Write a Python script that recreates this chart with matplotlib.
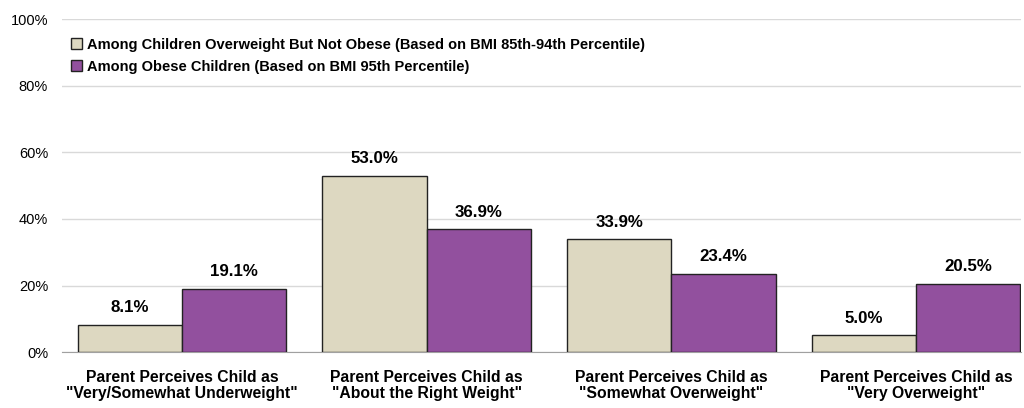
import matplotlib.pyplot as plt
import numpy as np
from matplotlib.ticker import PercentFormatter

plt.rcParams['font.family'] = ['Liberation Sans', 'DejaVu Sans']

categories = ['Parent Perceives Child as\n"Very/Somewhat Underweight"',
              'Parent Perceives Child as\n"About the Right Weight"',
              'Parent Perceives Child as\n"Somewhat Overweight"',
              'Parent Perceives Child as\n"Very Overweight"']
overweight = [8.1, 53.0, 33.9, 5.0]
obese = [19.1, 36.9, 23.4, 20.5]
series_names = ['Among Children Overweight But Not Obese (Based on BMI 85th-94th Percentile)',
                'Among Obese Children (Based on BMI 95th Percentile)']

fig = plt.figure(figsize=(10.24, 4.08), dpi=100)
ax = fig.add_axes([0.0605, 0.137, 0.937, 0.816])

x = np.arange(len(categories))
w = 0.426
b1 = ax.bar(x - w / 2, overweight, w, color='#DDD8C1', edgecolor='#222222', linewidth=1, label=series_names[0], zorder=3)
b2 = ax.bar(x + w / 2, obese, w, color='#92509E', edgecolor='#222222', linewidth=1, label=series_names[1], zorder=3)

# value labels above each bar
for bars, vals in ((b1, overweight), (b2, obese)):
    for r, v in zip(bars, vals):
        ax.annotate('%.1f%%' % v, (r.get_x() + r.get_width() / 2, v), xytext=(0, 7),
                    textcoords='offset points', ha='center', va='bottom',
                    fontsize=12.2, fontweight='bold')

ax.set_ylim(0, 100)
ax.set_xlim(-0.49, 3.43)
ax.set_yticks(range(0, 101, 20))
ax.yaxis.set_major_formatter(PercentFormatter(decimals=0))
ax.yaxis.grid(True, color='#D9D9D9', linewidth=1, zorder=0)
ax.set_xticks(x)
ax.set_xticklabels(categories, fontsize=11.3, fontweight='bold', linespacing=1.05)
ax.tick_params(axis='both', length=0)
ax.tick_params(axis='x', pad=13)
ax.tick_params(axis='y', labelsize=10.5, pad=10)
for s in ['top', 'right', 'left']:
    ax.spines[s].set_visible(False)
ax.spines['bottom'].set_color('#A0A0A0')

ax.legend(loc='upper left', bbox_to_anchor=(0.0, 0.97), frameon=False,
          prop={'weight': 'bold', 'size': 10.5}, handlelength=0.8, handleheight=0.8,
          handletextpad=0.3, labelspacing=0.55, borderaxespad=0.2)

plt.savefig('out.png', dpi=100)
